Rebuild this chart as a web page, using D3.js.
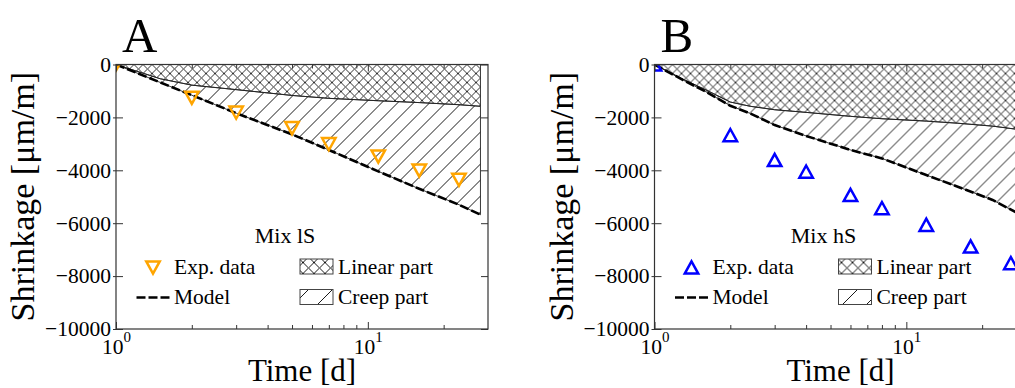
<!DOCTYPE html>
<html>
<head>
<meta charset="utf-8">
<script src="https://cdn.jsdelivr.net/npm/d3@7"></script>
<style>
  body { margin: 0; background: #fff; }
  svg { display: block; font-family: "Liberation Serif", "Times New Roman", serif; }
</style>
</head>
<body>
<svg id="chart" width="1015" height="388"></svg>
<script>
// Panel A - Mix lS
const expDaysA = [1, 2, 3, 5, 7, 11, 16, 23];
const expA = [0, -1260, -1820, -2410, -3010, -3480, -4010, -4360];
const modelDaysA = [1, 1.5, 2, 3, 5, 7, 11, 16, 23, 28];
const modelA = [0, -680, -1160, -1840, -2640, -3230, -4040, -4700, -5300, -5680];
const linearA = [0, -540, -780, -950, -1170, -1280, -1370, -1440, -1520, -1580];

// Panel B - Mix hS
const expDaysB = [1, 2, 3, 4, 6, 8, 12, 18, 26];
const expB = [0, -2670, -3610, -4050, -4930, -5430, -6060, -6880, -7510];
const modelDaysB = [1, 1.3, 1.6, 2, 2.4, 3, 4, 6, 8, 12, 16, 22, 28];
const modelB = [0, -590, -1030, -1560, -1850, -2290, -2700, -3230, -3550, -4180, -4620, -5120, -5650];
const linearB = [0, -560, -960, -1420, -1580, -1710, -1810, -1960, -2050, -2140, -2220, -2330, -2460];

// axes
const yTicks = [0, -2000, -4000, -6000, -8000, -10000];
const xMajor = [1, 10];
const xMinor = [2, 3, 4, 5, 6, 7, 8, 9, 20];
const legendLabels = ['Exp. data', 'Model', 'Linear part', 'Creep part'];

const W = 372, H = 264.5, TOP = 64.5;

const svg = d3.select('#chart');
const defs = svg.append('defs');

// hatch patterns
function crossPattern(id, s, sw) {
  const p = defs.append('pattern').attr('id', id)
    .attr('patternUnits', 'userSpaceOnUse').attr('width', s).attr('height', s);
  p.append('path').attr('d', `M0,0L${s},${s}M${s},0L0,${s}`)
    .attr('stroke', '#000').attr('stroke-width', sw);
}
function diagPattern(id, s, ox, oy) {
  const p = defs.append('pattern').attr('id', id)
    .attr('patternUnits', 'userSpaceOnUse').attr('width', s).attr('height', s)
    .attr('x', ox || 0).attr('y', oy || 0);
  p.append('path').attr('d', `M0,${s}L${s},0M${-s / 2},${s / 2}L${s / 2},${-s / 2}M${s / 2},${s * 1.5}L${s * 1.5},${s / 2}`)
    .attr('stroke', '#000').attr('stroke-width', 0.9);
}
crossPattern('xhatch', 9, 0.8);
diagPattern('diag', 16);
crossPattern('xhatchLeg', 11, 0.9);

const triUp = {
  draw(ctx, size) {
    const h = Math.sqrt(size);
    ctx.moveTo(0, -h / 2);
    ctx.lineTo(h * 0.55, h / 2);
    ctx.lineTo(-h * 0.55, h / 2);
    ctx.closePath();
  }
};

const yFormat = d => d === 0 ? '0' : '\u2212' + Math.abs(d);

function drawPanel(left, letter, mixName, expDays, expVals, modelDays, modelVals, linVals, color, down, clipId) {
  const x = d3.scaleLog().domain([1, 30]).range([0, W]);
  const y = d3.scaleLinear().domain([-10000, 0]).range([H, 0]);

  const g = svg.append('g').attr('transform', `translate(${left},${TOP})`);

  defs.append('clipPath').attr('id', clipId)
    .append('rect').attr('width', W).attr('height', H);

  const model = modelDays.map((t, i) => ({ t, m: modelVals[i], l: linVals[i] }));

  const plot = g.append('g').attr('clip-path', `url(#${clipId})`);

  // linear part (cross hatch)
  plot.append('path').datum(model)
    .attr('d', d3.area().x(d => x(d.t)).y0(y(0)).y1(d => y(d.l)))
    .attr('fill', 'url(#xhatch)').attr('stroke', '#222').attr('stroke-width', 0.9);

  // creep part (single hatch)
  plot.append('path').datum(model)
    .attr('d', d3.area().x(d => x(d.t)).y0(d => y(d.l)).y1(d => y(d.m)))
    .attr('fill', 'url(#diag)').attr('stroke', '#222').attr('stroke-width', 0.9);

  // model
  plot.append('path').datum(model)
    .attr('d', d3.line().x(d => x(d.t)).y(d => y(d.m)))
    .attr('fill', 'none').attr('stroke', '#000').attr('stroke-width', 2.6)
    .attr('stroke-dasharray', '9,3');

  // experimental data
  const sym = d3.symbol().type(triUp).size(150);
  plot.selectAll('.exp').data(expDays.map((t, i) => ({ t, v: expVals[i] })))
    .enter().append('path')
    .attr('class', 'exp')
    .attr('d', sym)
    .attr('transform', d => `translate(${x(d.t)},${y(d.v)})${down ? ' rotate(180)' : ''}`)
    .attr('fill', 'none').attr('stroke', color).attr('stroke-width', 2.5);

  // axes
  const yAxis = g.append('g').call(d3.axisLeft(y).tickValues(yTicks).tickSize(-7).tickPadding(5)
    .tickFormat(yFormat));
  yAxis.selectAll('line').attr('x1', -3).attr('x2', 7);
  g.append('g').attr('transform', `translate(${W},0)`)
    .call(d3.axisRight(y).tickValues(yTicks).tickSize(-7).tickFormat(''));
  g.append('g').attr('transform', `translate(0,${H})`)
    .call(d3.axisBottom(x).tickValues(xMinor).tickSize(-4).tickFormat(''));
  g.append('g').attr('transform', `translate(0,${H})`)
    .call(d3.axisBottom(x).tickValues(xMajor).tickSize(-7).tickFormat(''));
  g.append('g').call(d3.axisTop(x).tickValues(xMinor).tickSize(-4).tickFormat(''));
  g.append('g').call(d3.axisTop(x).tickValues(xMajor).tickSize(-7).tickFormat(''));

  g.selectAll('.domain').remove();
  g.selectAll('.tick line').attr('stroke', '#333').attr('stroke-width', 1);
  yAxis.selectAll('text')
    .style('font-family', '"Liberation Serif", serif').style('font-size', '21.5px').attr('fill', '#000');

  g.append('rect').attr('width', W).attr('height', H)
    .attr('fill', 'none').attr('stroke', '#333').attr('stroke-width', 1.2);

  // x tick labels 10^n
  const xl = g.selectAll('.xlab').data(xMajor).enter().append('text')
    .attr('class', 'xlab')
    .attr('x', d => x(d) - 14)
    .attr('y', H + 25)
    .style('font-size', '21.5px');
  xl.append('tspan').text('10');
  xl.append('tspan').attr('dy', -12).style('font-size', '15px').text(d => Math.round(Math.log10(d)));

  // axis titles
  g.append('text').attr('x', W / 2).attr('y', H + 52)
    .attr('text-anchor', 'middle').style('font-size', '31px').text('Time [d]');
  g.append('text')
    .attr('transform', `translate(-82,${H / 2}) rotate(-90)`)
    .attr('text-anchor', 'middle').style('font-size', '34px').text('Shrinkage [μm/m]');

  // panel letter
  svg.append('text').attr('x', left + 6).attr('y', 52)
    .style('font-size', '49px').text(letter);

  // legend
  const lg = g.append('g');
  lg.append('text').attr('x', 169).attr('y', 243 - TOP)
    .attr('text-anchor', 'middle').style('font-size', '22px').text(mixName);
  lg.append('path').attr('d', sym)
    .attr('transform', `translate(37,${267.5 - TOP})${down ? ' rotate(180)' : ''}`)
    .attr('fill', 'none').attr('stroke', color).attr('stroke-width', 2.5);
  lg.append('line').attr('x1', 20.5).attr('x2', 53.5)
    .attr('y1', 297.5 - TOP).attr('y2', 297.5 - TOP)
    .attr('stroke', '#000').attr('stroke-width', 2.6).attr('stroke-dasharray', '9,3');
  lg.append('text').attr('x', 58).attr('y', 274 - TOP).style('font-size', '21.5px').text(legendLabels[0]);
  lg.append('text').attr('x', 58).attr('y', 304 - TOP).style('font-size', '21.5px').text(legendLabels[1]);

  const bx = 184, bw = 33;
  const legDiagId = clipId + 'leg';
  diagPattern(legDiagId, 24, left + bx + 5 - 24 + 15, 289.5);
  lg.append('rect').attr('x', bx).attr('y', 259 - TOP).attr('width', bw).attr('height', 15)
    .attr('fill', 'url(#xhatchLeg)').attr('stroke', '#444').attr('stroke-width', 1);
  lg.append('rect').attr('x', bx).attr('y', 289.5 - TOP).attr('width', bw).attr('height', 15)
    .attr('fill', `url(#${legDiagId})`).attr('stroke', '#444').attr('stroke-width', 1);
  lg.append('text').attr('x', 222).attr('y', 274 - TOP).style('font-size', '21.5px').text(legendLabels[2]);
  lg.append('text').attr('x', 222).attr('y', 304 - TOP).style('font-size', '21.5px').text(legendLabels[3]);
}

drawPanel(116, 'A', 'Mix lS', expDaysA, expA, modelDaysA, modelA, linearA, '#FFA500', true, 'clipA');
drawPanel(654.5, 'B', 'Mix hS', expDaysB, expB, modelDaysB, modelB, linearB, '#0000FF', false, 'clipB');
</script>
</body>
</html>
